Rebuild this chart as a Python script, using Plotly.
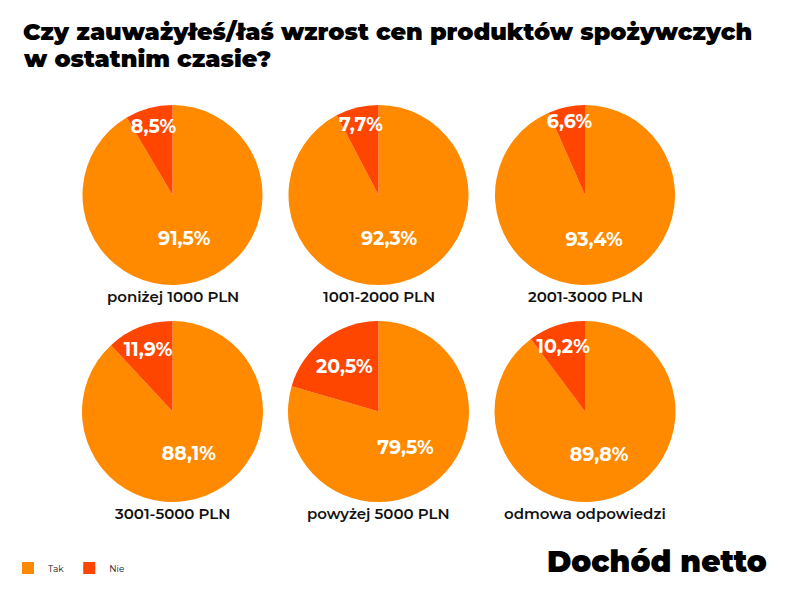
import plotly.graph_objects as go

# Dochód netto – odsetek odpowiedzi
groups = ["poniżej 1000 PLN", "1001-2000 PLN", "2001-3000 PLN",
          "3001-5000 PLN", "powyżej 5000 PLN", "odmowa odpowiedzi"]
answers = ["Tak", "Nie"]
tak = [91.5, 92.3, 93.4, 88.1, 79.5, 89.8]
nie = [8.5, 7.7, 6.6, 11.9, 20.5, 10.2]
title_lines = ["Czy zauważyłeś/łaś wzrost cen produktów spożywczych",
               "w ostatnim czasie?"]

colors = ["#FF8A00", "#FF4600"]
font_main = "Montserrat, Lato, sans-serif"

W, H = 800, 600
OFF = 8  # page body margin in the browser

# pixel boxes of the pies as seen on the page
col_px = [(82, 263), (288, 469), (494, 676)]
row_px = [(105, 285), (321, 502)]


def px(x):
    return (x - OFF) / W


def py(y):
    return 1 - (y - OFF) / H


fig = go.Figure()

for i, g in enumerate(groups):
    r, c = divmod(i, 3)
    x0, x1 = col_px[c]
    y0, y1 = row_px[r]
    vals = [tak[i], nie[i]]
    txt = [f"{v:.1f}".replace(".", ",") + "%" for v in vals]
    fig.add_trace(go.Pie(
        labels=answers,
        values=vals,
        text=txt,
        textinfo="text",
        textposition="inside",
        insidetextorientation="horizontal",
        sort=False,
        direction="clockwise",
        rotation=0,
        marker=dict(colors=colors, line=dict(width=0)),
        insidetextfont=dict(color="white", size=19, family=font_main, weight=700),
        hoverinfo="label+text",
        domain=dict(x=[px(x0), px(x1)], y=[py(y1), py(y0)]),
        showlegend=(i == 0),
        name=g,
    ))
    fig.add_annotation(
        text=g, x=(px(x0) + px(x1)) / 2, y=py(y1 + 11),
        xref="paper", yref="paper", showarrow=False,
        xanchor="center", yanchor="middle",
        font=dict(size=15, color="#111111", family=font_main, weight=600),
    )

# title as two lines with tight spacing
for line, ypos in zip(title_lines, [31, 58]):
    fig.add_annotation(
        text=line, x=px(21), y=py(ypos), xref="paper", yref="paper",
        showarrow=False, xanchor="left", yanchor="middle", align="left",
        font=dict(size=23.8, color="#000000", family=font_main, weight=900),
    )

fig.add_annotation(
    text="Dochód netto",
    x=px(769), y=py(561), xref="paper", yref="paper", showarrow=False,
    xanchor="right", yanchor="middle",
    font=dict(size=29.5, color="#000000", family=font_main, weight=900),
)

fig.update_layout(
    width=W, height=H,
    margin=dict(l=0, r=0, t=0, b=0),
    paper_bgcolor="white",
    plot_bgcolor="white",
    uniformtext=dict(minsize=19, mode="show"),
    legend=dict(
        orientation="h", x=0, y=py(568),
        xanchor="left", yanchor="middle",
        font=dict(size=9, color="#111111", family=font_main),
        itemwidth=30,
    ),
)

fig.write_html("out.html")
